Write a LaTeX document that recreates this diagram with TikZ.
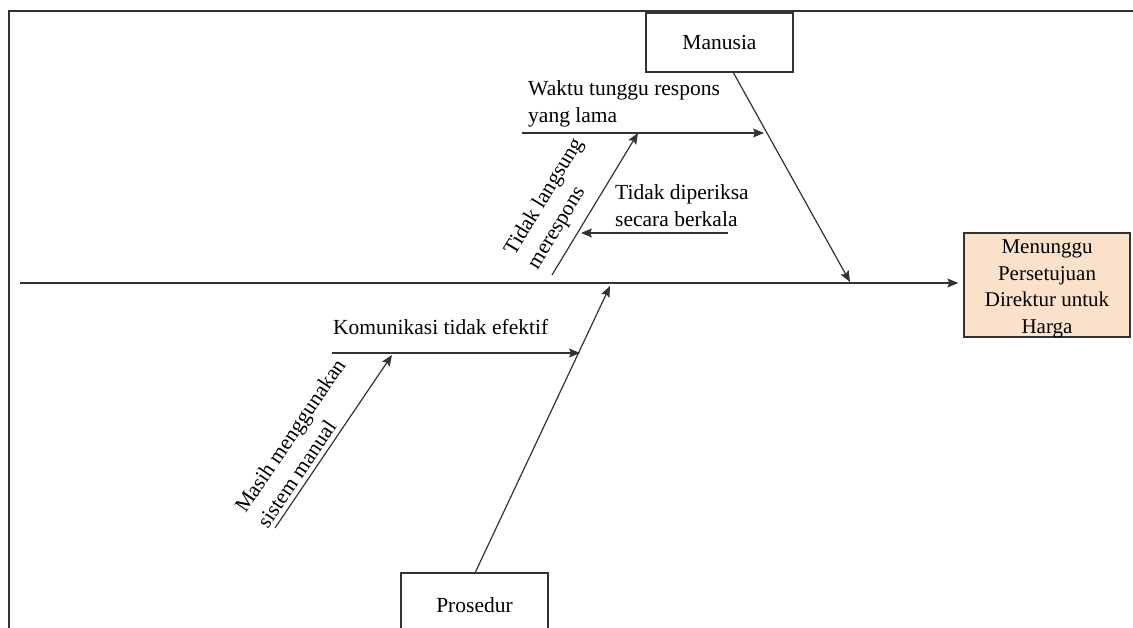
\documentclass[tikz,border=0pt]{standalone}
\usepackage{fontspec}
\setmainfont{Liberation Serif}
\usetikzlibrary{arrows.meta}
\definecolor{linecol}{HTML}{333333}
\definecolor{peach}{HTML}{FCE2CA}
\begin{document}
\begin{tikzpicture}[x=1pt,y=-1pt,
  every node/.style={font=\fontsize{21.5}{27}\selectfont, text=black},
  catbox/.style={draw=linecol, line width=1.3pt, fill=white, minimum width=147pt, inner sep=0pt},
  effbox/.style={draw=linecol, line width=1.3pt, fill=peach, minimum width=166pt, minimum height=104pt, inner sep=0pt},
  lbl/.style={align=left, inner sep=0pt},
  bone/.style={draw=linecol, line width=1.2pt},
  arr/.style={draw=linecol, line width=1.2pt, -{Stealth[length=11pt,width=9pt,inset=2pt]}}
]
\useasboundingbox (0,0) rectangle (1133,628);
\clip (0,0) rectangle (1133,628);
\fill[white] (0,0) rectangle (1133,628);
% frame
\draw[linecol, line width=1.6pt] (9,660) -- (9,11) -- (1160,11);

% nodes
\node[catbox, minimum height=59pt, text depth=-2pt] (manusia) at (719.5,42.5) {Manusia};
\node[catbox, minimum height=64pt] (prosedur) at (474.5,605) {Prosedur};
\node[effbox] (effect) at (1047,285) {};
\node[align=center, inner sep=0pt, font=\fontsize{21}{26.5}\selectfont] (efftext) at (1047,289) {Menunggu\\Persetujuan\\Direktur untuk\\Harga};

\node[lbl, anchor=west] (waktu) at (528,104) {Waktu tunggu respons\\yang lama};
\node[lbl, anchor=west] (periksa) at (615,206) {Tidak diperiksa\\secara berkala};
\node[lbl, anchor=west] (komunikasi) at (333,327) {Komunikasi tidak efektif};
\node[lbl, rotate=58.8] (langsung) at (556,204) {Tidak langsung\\merespons};
\node[lbl, rotate=55.9] (masih) at (301,443) {Masih menggunakan\\sistem manual};

% coordinates
\coordinate (spineS) at (20,283);
\coordinate (mB) at (733,72);
\coordinate (mT) at (850,282);
\coordinate (wS) at (522,133);
\coordinate (wT) at (764,133);
\coordinate (lS) at (552,275);
\coordinate (lT) at (638,133);
\coordinate (pS) at (728,233);
\coordinate (pT) at (581,233);
\coordinate (prT) at (475,573);
\coordinate (prH) at (610,286);
\coordinate (kS) at (332,353);
\coordinate (kT) at (580,353);
\coordinate (mmS) at (275,528);
\coordinate (mmT) at (392,355);

% spine
\draw[arr, shorten >=5pt] (spineS) -- (effect.west |- spineS);
% manusia
\draw[arr] (mB) -- (mT);
\draw[arr] (wS) -- (wT);
\draw[arr] (lS) -- (lT);
\draw[arr] (pS) -- (pT);
% prosedur
\draw[arr] (prT) -- (prH);
\draw[arr] (kS) -- (kT);
\draw[arr] (mmS) -- (mmT);
\end{tikzpicture}
\end{document}
